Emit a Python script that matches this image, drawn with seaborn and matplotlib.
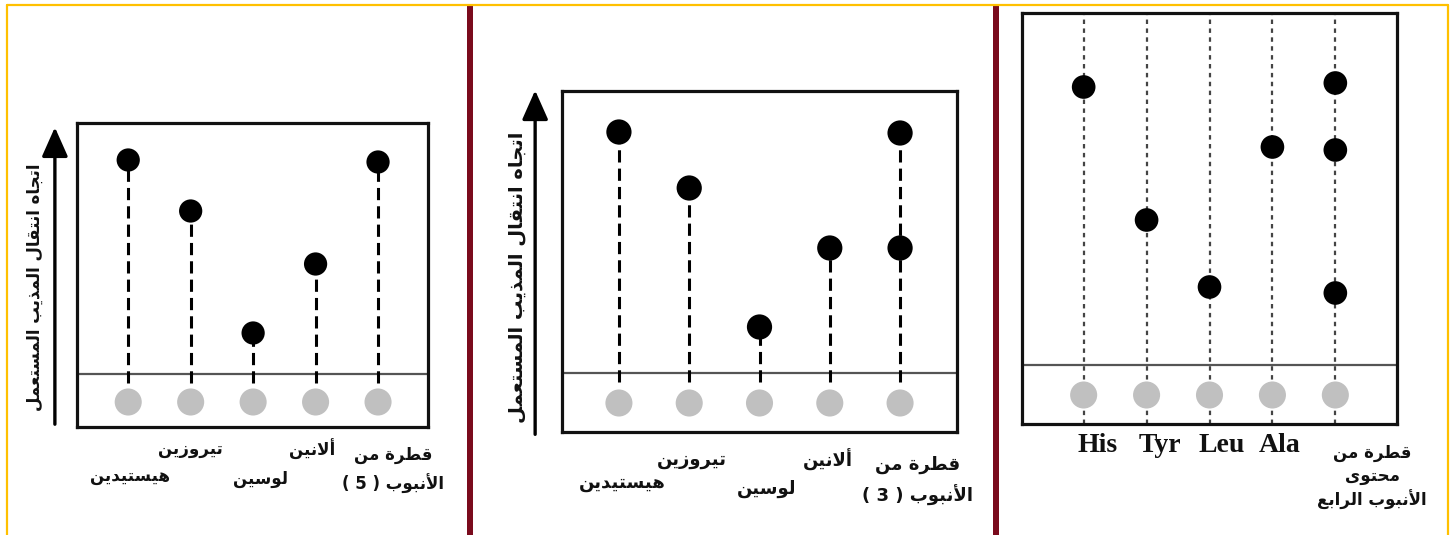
import pandas as pd
import matplotlib.pyplot as plt
import seaborn as sns
from matplotlib.lines import Line2D
from matplotlib.patches import Rectangle

# lanes (logical Arabic text) and spot heights above the origin line
lanes_ar = ['هيستيدين', 'تيروزين', 'لوسين', 'ألانين', 'قطرة من']
lanes_en = ['His', 'Tyr', 'Leu', 'Ala', 'قطرة من']

# panel 1: tube 5
p1_lane = [0, 1, 2, 3, 4]
p1_rf = [214, 163, 41, 110, 212]
p1_drop_label = 'قطرة من\nالأنبوب ( 5 )'

# panel 2: tube 3 (drop shows two spots)
p2_lane = [0, 1, 2, 3, 4, 4]
p2_rf = [241, 185, 46, 125, 240, 125]
p2_drop_label = 'قطرة من\nالأنبوب ( 3 )'

# panel 3: content of tube 4 (drop shows three spots)
p3_lane = [0, 1, 2, 3, 4, 4, 4]
p3_rf = [278, 145, 78, 218, 282, 215, 72]
p3_drop_label = 'قطرة من\nمحتوى\nالأنبوب الرابع'

origin_spot = [-28, -30, -30]
ylabel_ar = 'اتجاه انتقال المذيب المستعمل'

W, H = 1455, 535

# --- minimal Arabic shaping (matplotlib has no complex text layout) ---
FORMS = {
    'ا': (0xFE8D, 'R'), 'أ': (0xFE83, 'R'), 'ب': (0xFE8F, 'D'), 'ة': (0xFE93, 'R'),
    'ت': (0xFE95, 'D'), 'ج': (0xFE9D, 'D'), 'ح': (0xFEA1, 'D'), 'د': (0xFEA9, 'R'),
    'ذ': (0xFEAB, 'R'), 'ر': (0xFEAD, 'R'), 'ز': (0xFEAF, 'R'), 'س': (0xFEB1, 'D'),
    'ط': (0xFEC1, 'D'), 'ع': (0xFEC9, 'D'), 'ق': (0xFED5, 'D'), 'ل': (0xFEDD, 'D'),
    'م': (0xFEE1, 'D'), 'ن': (0xFEE5, 'D'), 'ه': (0xFEE9, 'D'), 'و': (0xFEED, 'R'),
    'ى': (0xFEEF, 'R'), 'ي': (0xFEF1, 'D'),
}


def shape_line(s):
    out = []
    i = 0
    n = len(s)
    while i < n:
        c = s[i]
        if c not in FORMS:
            out.append(c)
            i += 1
            continue
        prev = s[i - 1] if i > 0 else None
        link_prev = prev in FORMS and FORMS[prev][1] == 'D'
        if c == 'ل' and i + 1 < n and s[i + 1] in ('ا', 'أ'):
            base = 0xFEFB if s[i + 1] == 'ا' else 0xFEF7
            out.append(chr(base + (1 if link_prev else 0)))
            i += 2
            continue
        base, jt = FORMS[c]
        nxt = s[i + 1] if i + 1 < n else None
        link_next = jt == 'D' and nxt in FORMS
        if link_prev and link_next:
            code = base + 3
        elif link_prev:
            code = base + 1
        elif link_next:
            code = base + 2
        else:
            code = base
        out.append(chr(code))
        i += 1
    vis = ''.join(reversed(out))
    return vis.translate(str.maketrans('()', ')('))


def ar(s):
    return '\n'.join(shape_line(line) for line in s.split('\n'))


def px(x, y):
    return x / W, 1 - y / H


def add_axes(fig, left, right, top, bottom):
    return fig.add_axes([left / W, 1 - bottom / H, (right - left) / W, (bottom - top) / H])


def draw_panel(ax, lanes, rf, spot_y, stems, dot_s, xlim, ylim):
    df = pd.DataFrame({'lane': lanes, 'rf': rf})
    start = pd.DataFrame({'lane': sorted(set(lanes)), 'rf': spot_y})
    ax.axhline(0, color='#555555', lw=1.6, zorder=1)
    if stems == 'dashed':
        tops = df.groupby('lane')['rf'].max()
        ax.vlines(tops.index, -9, tops.values, colors='black', lw=2.2,
                  linestyles=(0, (4, 2)), zorder=2)
    else:
        for lane in start['lane']:
            ax.axvline(lane, color='#444444', lw=1.6, ls=(0, (2, 2)), zorder=2)
    sns.scatterplot(data=start, x='lane', y='rf', s=380, color='#c0c0c0',
                    edgecolor='none', ax=ax, zorder=3)
    sns.scatterplot(data=df, x='lane', y='rf', s=dot_s, color='black',
                    edgecolor='none', ax=ax, zorder=4)
    ax.set_xlim(*xlim)
    ax.set_ylim(*ylim)
    ax.set_xticks([])
    ax.set_yticks([])
    ax.set_xlabel('')
    ax.set_ylabel('')
    for sp in ax.spines.values():
        sp.set_visible(True)
        sp.set_color('#111111')
        sp.set_linewidth(2.3)


def main():
    sns.set_theme(style='white')
    plt.rcParams['font.family'] = ['DejaVu Sans']

    fig = plt.figure(figsize=(W / 100, H / 100), dpi=100)

    ax1 = add_axes(fig, 77, 428, 123, 427)
    draw_panel(ax1, p1_lane, p1_rf, origin_spot[0], 'dashed', 280, (-0.82, 4.8), (-53, 251))
    ax2 = add_axes(fig, 562, 957, 91, 432)
    draw_panel(ax2, p2_lane, p2_rf, origin_spot[1], 'dashed', 330, (-0.81, 4.81), (-59, 282))
    ax3 = add_axes(fig, 1022, 1397, 13, 424)
    draw_panel(ax3, p3_lane, p3_rf, origin_spot[2], 'dotted', 290, (-0.98, 4.98), (-59, 352))

    # arrows for solvent direction
    for ax, xa, y0, y1 in [(ax1, -0.063, 0.0, 0.995), (ax2, -0.068, -0.015, 1.01)]:
        ax.annotate('', xy=(xa, y1), xytext=(xa, y0), xycoords='axes fraction',
                    annotation_clip=False,
                    arrowprops=dict(arrowstyle='-|>,head_length=0.9,head_width=0.4',
                                    mutation_scale=20, lw=2.4, color='black'))

    lab = dict(fontweight='bold', color='#111111', ha='center', va='center')
    fig.text(*px(35, 287), ar(ylabel_ar), rotation=90, fontsize=12, **lab)
    fig.text(*px(517, 277), ar(ylabel_ar), rotation=90, fontsize=14, **lab)

    # panel 1 lane labels
    p1_pos = [(130, 476), (190, 449), (260, 479), (312, 449)]
    for (x, y), t in zip(p1_pos, lanes_ar[:4]):
        fig.text(*px(x, y), ar(t), fontsize=12, **lab)
    fig.text(*px(393, 470), ar(p1_drop_label), fontsize=12, linespacing=1.6, **lab)

    # panel 2 lane labels
    p2_pos = [(622, 483), (692, 460), (767, 489), (828, 460)]
    for (x, y), t in zip(p2_pos, lanes_ar[:4]):
        fig.text(*px(x, y), ar(t), fontsize=13, **lab)
    fig.text(*px(918, 481), ar(p2_drop_label), fontsize=13, linespacing=1.6, **lab)

    # panel 3 lane labels
    for x, t in zip([1098, 1160, 1222, 1280], lanes_en[:4]):
        fig.text(*px(x, 446), t, fontsize=20, family='Liberation Serif', **lab)
    fig.text(*px(1372, 477), ar(p3_drop_label), fontsize=12, linespacing=1.3, **lab)

    # frame and panel dividers
    yellow = '#ffc000'
    fig.add_artist(Line2D([7 / W, 1448 / W], [1 - 5 / H] * 2, color=yellow, lw=1.6))
    fig.add_artist(Line2D([7 / W] * 2, [0, 1 - 5 / H], color=yellow, lw=1.6))
    fig.add_artist(Line2D([1448 / W] * 2, [0, 1 - 5 / H], color=yellow, lw=1.6))
    for xd in [467, 993]:
        fig.add_artist(Rectangle((xd / W, 0), 6 / W, 1 - 6 / H, color='#7a0b1d', lw=0))

    fig.savefig('out.png', dpi=100)


if __name__ == '__main__':
    main()
